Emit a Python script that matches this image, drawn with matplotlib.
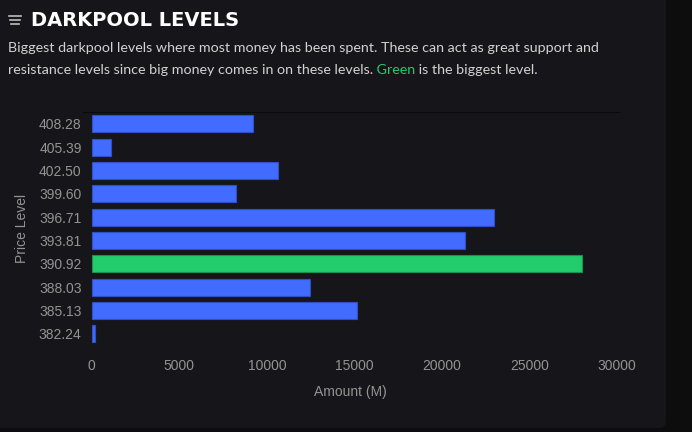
import matplotlib.pyplot as plt
from matplotlib.patches import FancyBboxPatch
from matplotlib.lines import Line2D
from matplotlib.transforms import IdentityTransform

# darkpool levels (top to bottom) and amounts in millions
levels = ['408.28', '405.39', '402.50', '399.60', '396.71',
          '393.81', '390.92', '388.03', '385.13', '382.24']
amounts = [9200, 1110, 10610, 8250, 22950, 21300, 27980, 12440, 15170, 210]
xticks = [0, 5000, 10000, 15000, 20000, 25000, 30000]

blue, green = '#426bff', '#22cc6c'
top = max(amounts)
colors = [green if a == top else blue for a in amounts]
edges = ['#1d8f4e' if a == top else '#2f4fc4' for a in amounts]

W, H = 692, 432
plt.rcParams['font.family'] = 'Liberation Sans'
fig = plt.figure(figsize=(W / 100, H / 100), dpi=100, facecolor='#0d0d0d')

# card background (pixel coords)
card = FancyBboxPatch((-20, H - 428), 686, 460,
                      boxstyle='round,pad=0,rounding_size=7',
                      transform=IdentityTransform(),
                      facecolor='#16161a', edgecolor='none', zorder=-10)
fig.add_artist(card)

# header
for y, x0, x1 in [(16, 9, 21), (20, 10, 20), (24, 11, 19)]:
    fig.add_artist(Line2D([x0 / W, x1 / W], [1 - y / H, 1 - y / H],
                          color='#bdbdbd', lw=1.2, transform=fig.transFigure))
fig.text(31 / W, 1 - 21 / H, 'DARKPOOL LEVELS', fontsize=14, fontweight='bold',
         color='white', family='DejaVu Sans', va='center')

fs = 10.3
sub = dict(fontsize=fs, family='Lato', va='center')
fig.text(8 / W, 1 - 48 / H, 'Biggest darkpool levels where most money has been spent. '
         'These can act as great support and', color='#d2d2d2', **sub)
t1 = fig.text(8 / W, 1 - 70 / H, 'resistance levels since big money comes in on these levels.',
              color='#d2d2d2', **sub)
t2 = fig.text(0, 0, ' Green', color='#22cc6c', fontsize=fs, family='Lato',
              va='bottom', ha='left')
t3 = fig.text(0, 0, ' is the biggest level.', color='#d2d2d2', fontsize=fs,
              family='Lato', va='bottom', ha='left')
fig.canvas.draw()
r = fig.canvas.get_renderer()
b1 = t1.get_window_extent(r)
t2.set_position((b1.x1 / W, b1.y0 / H))
fig.canvas.draw()
b2 = t2.get_window_extent(r)
t3.set_position((b2.x1 / W, b1.y0 / H))

# chart
ax = fig.add_axes([83 / W, 86.4 / H, (618.75 - 83) / W, 233.6 / H])
ax.patch.set_alpha(0)
ax.barh(range(len(levels)), amounts, height=0.73, color=colors,
        edgecolor=edges, linewidth=0.8)
ax.set_ylim(len(levels) - 0.5, -0.5)
ax.set_xlim(-500, 30100)
ax.set_yticks(range(len(levels)), levels)
ax.set_xticks(xticks, [str(v) for v in xticks])
ax.tick_params(axis='both', length=0, colors='#939393', labelsize=10)
ax.tick_params(axis='y', pad=1)
ax.tick_params(axis='x', pad=10)
for s in ['left', 'right', 'bottom']:
    ax.spines[s].set_visible(False)
ax.spines['top'].set_color('#0b0b0d')
ax.spines['top'].set_linewidth(0.8)
ax.set_xlabel('Amount (M)', color='#939393', fontsize=10, labelpad=8)
ax.set_ylabel('Price Level', color='#939393', fontsize=10, labelpad=7)

fig.savefig('out.png', dpi=100, facecolor=fig.get_facecolor())
